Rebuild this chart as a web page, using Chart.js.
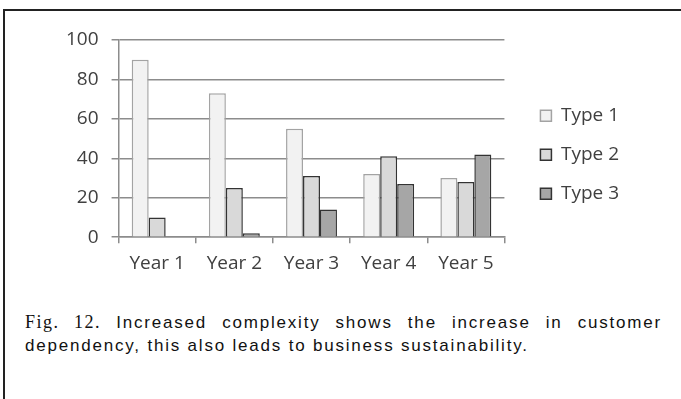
<!doctype html>
<html lang="en">
<head>
<meta charset="utf-8">
<title>Customer dependency by year</title>
<script src="https://cdn.jsdelivr.net/npm/chart.js"></script>
<style>
  body { margin: 0; width: 681px; height: 399px; background: #fff; overflow: hidden; position: relative; }
  .frame { position: absolute; left: 3px; top: 9px; width: 720px; height: 440px; border-left: 2px solid #222; border-top: 2px solid #222; }
  .plot { position: absolute; left: 0; top: 0; width: 681px; height: 290px; }
  .caption {
    position: absolute; left: 25px; top: 311px; width: 637px;
    font-family: "Liberation Sans", Arial, sans-serif;
    font-size: 17px; line-height: 23px; letter-spacing: 1.8px;
    text-align: justify; color: #111;
  }
  .caption .fig { font-family: "Liberation Serif", "Times New Roman", serif; font-size: 18px; letter-spacing: 1.5px; }
</style>
</head>
<body>
<div class="frame"></div>
<div class="plot"><canvas id="chart"></canvas></div>
<div class="caption"><span class="fig">Fig. 12.</span> Increased complexity shows the increase in customer dependency, this also leads to business sustainability.</div>

<script>
  // values
  const years = ['Year 1', 'Year 2', 'Year 3', 'Year 4', 'Year 5'];
  const type1 = [90, 73, 55, 32, 30];
  const type2 = [10, 25, 31, 41, 28];
  const type3 = [0, 2, 14, 27, 42];
  const yTicks = [0, 20, 40, 60, 80, 100];

  const labelFont = { family: '"Open Sans", "Liberation Sans", sans-serif', size: 19 };
  const textGrey = '#404040';
  const gridGrey = '#8c8c8c';

  new Chart(document.getElementById('chart'), {
    type: 'bar',
    data: {
      labels: years,
      datasets: [
        { label: 'Type 1', data: type1, backgroundColor: '#f2f2f2', borderColor: '#a3a3a3', borderWidth: 1.5 },
        { label: 'Type 2', data: type2, backgroundColor: '#d9d9d9', borderColor: '#333333', borderWidth: 1.5 },
        { label: 'Type 3', data: type3, backgroundColor: '#a6a6a6', borderColor: '#333333', borderWidth: 1.5 }
      ]
    },
    options: {
      responsive: true,
      maintainAspectRatio: false,
      animation: false,
      layout: { padding: { left: 53, top: 40, right: 52, bottom: 6 } },
      datasets: { bar: { categoryPercentage: 0.66, barPercentage: 1, borderSkipped: 'start' } },
      plugins: {
        tooltip: { enabled: false },
        legend: {
          position: 'right',
          align: 'start',
          maxWidth: 200,
          // empty title only used to push the entries down
          title: { display: true, text: '', font: { size: 1 }, padding: { top: 0, bottom: 45 } },
          labels: { boxWidth: 11, boxHeight: 11, padding: 20, color: textGrey, font: labelFont }
        }
      },
      scales: {
        x: {
          grid: { display: true, drawOnChartArea: false, drawTicks: true, tickLength: 6, color: gridGrey, lineWidth: 1.5 },
          border: { color: gridGrey, width: 1.5 },
          ticks: { color: textGrey, font: labelFont, padding: 9 }
        },
        y: {
          min: 0, max: 100,
          afterBuildTicks: (axis) => { axis.ticks = yTicks.map(v => ({ value: v })); },
          grid: { color: gridGrey, lineWidth: 1.5, tickLength: 7 },
          border: { color: gridGrey, width: 1.5 },
          ticks: { color: textGrey, font: labelFont, padding: 13 }
        },
        // blank spacer between plot and legend
        gap: {
          type: 'linear', position: 'right', display: true,
          grid: { display: false }, border: { display: false }, ticks: { display: false },
          afterFit: (axis) => { axis.width = 16; }
        }
      }
    }
  });
</script>
</body>
</html>
